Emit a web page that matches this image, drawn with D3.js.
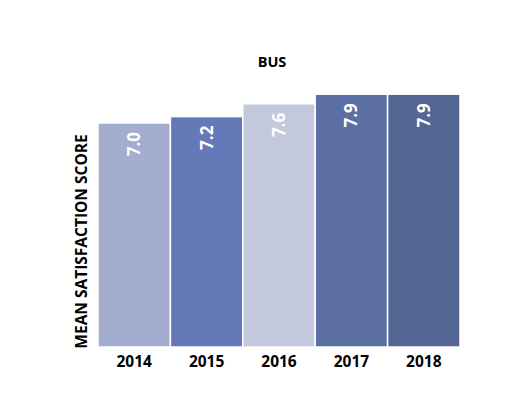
<!DOCTYPE html>
<html>
<head>
<meta charset="utf-8">
<script src="https://cdn.jsdelivr.net/npm/d3@7.9.0/dist/d3.min.js"></script>
<style>
  body { margin: 0; background: #fff; }
  text { font-family: "Open Sans", sans-serif; font-weight: bold; }
</style>
</head>
<body>
<svg id="chart" width="530" height="408"></svg>
<script>
const years = ["2014", "2015", "2016", "2017", "2018"];
const scores = [7.0, 7.2, 7.6, 7.9, 7.9];
const barColors = ["#a3adcd", "#6479b8", "#c3c8dc", "#5b6fa5", "#536592"];

const svg = d3.select("#chart");
const margin = { top: 91, left: 98, right: 70, bottom: 61 };
const width = 530 - margin.left - margin.right;
const height = 408 - margin.top - margin.bottom;

const g = svg.append("g")
  .attr("transform", `translate(${margin.left},${margin.top})`);

const x = d3.scaleBand()
  .domain(years)
  .range([0, width])
  .padding(0);

const y = d3.scaleLinear()
  .domain([0, 8])
  .range([height, 0]);

// bars
g.selectAll("rect.bar")
  .data(scores)
  .enter()
  .append("rect")
  .attr("class", "bar")
  .attr("x", (d, i) => x(years[i]))
  .attr("y", d => y(d))
  .attr("width", x.bandwidth())
  .attr("height", d => height - y(d))
  .attr("fill", (d, i) => barColors[i])
  .attr("stroke", "#fff")
  .attr("stroke-width", 1.5);

// value labels, rotated, near top of each bar
g.selectAll("text.val")
  .data(scores)
  .enter()
  .append("text")
  .attr("class", "val")
  .attr("transform", (d, i) =>
    `translate(${x(years[i]) + x.bandwidth() / 2 + 6},${y(d) + 9}) rotate(-90)`)
  .attr("text-anchor", "end")
  .attr("fill", "#fff")
  .attr("font-size", "17px")
  .text(d => d.toFixed(1));

// x axis labels
const xAxis = g.append("g")
  .attr("transform", `translate(0,${height})`)
  .call(d3.axisBottom(x).tickSize(0).tickPadding(9));
xAxis.select(".domain").remove();
xAxis.selectAll("text")
  .attr("fill", "#000")
  .attr("font-size", "15.5px")
  .attr("font-family", "Open Sans, sans-serif")
  .attr("font-weight", "bold");

// title
svg.append("text")
  .attr("x", 272)
  .attr("y", 67)
  .attr("text-anchor", "middle")
  .attr("font-size", "14.5px")
  .attr("fill", "#000")
  .text("BUS");

// y axis title
svg.append("text")
  .attr("transform", `translate(87,${(133 + 350) / 2}) rotate(-90)`)
  .attr("text-anchor", "middle")
  .attr("font-size", "15.5px")
  .attr("fill", "#000")
  .text("MEAN SATISFACTION SCORE");
</script>
</body>
</html>
